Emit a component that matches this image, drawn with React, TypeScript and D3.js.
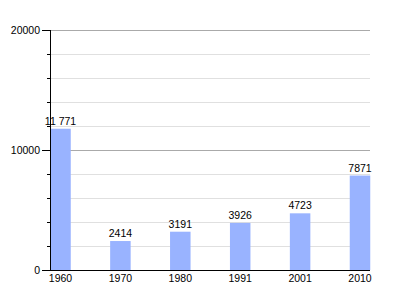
import React from "react";
import * as d3 from "d3";

const years = ["1960", "1970", "1980", "1991", "2001", "2010"];
const population = [11771, 2414, 3191, 3926, 4723, 7871];
const valueLabels = ["11 771", "2414", "3191", "3926", "4723", "7871"];
const majorTicks = [0, 10000, 20000];
const minorTicks = [2000, 4000, 6000, 8000, 12000, 14000, 16000, 18000];

export default function App() {
  const W = 400, H = 300;
  const left = 50, right = 370, top = 30, bottom = 270;
  const x = d3.scalePoint<string>().domain(years).range([60.5, 360]).padding(0);
  const y = d3.scaleLinear().domain([0, 20000]).range([bottom, top]);
  const bw = 20.5;
  const font = "'Liberation Sans', Arial, sans-serif";
  const fs = 10.5;
  return (
    <svg width={W} height={H} style={{ position: "absolute", left: 0, top: 0, background: "#fff" }} fontFamily={font}>
      {minorTicks.map((t) => (
        <g key={"m" + t}>
          <line x1={left} x2={right} y1={Math.round(y(t)) + 0.5} y2={Math.round(y(t)) + 0.5} stroke="#e0e0e0" />
          <line x1={left - 3} x2={left} y1={Math.round(y(t)) + 0.5} y2={Math.round(y(t)) + 0.5} stroke="#000" />
        </g>
      ))}
      {majorTicks.filter((t) => t > 0).map((t) => (
        <line key={"g" + t} x1={left} x2={right} y1={Math.round(y(t)) + 0.5} y2={Math.round(y(t)) + 0.5} stroke="#aaaaaa" />
      ))}
      {years.map((yr, i) => (
        <g key={yr}>
          <rect x={(x(yr) as number) - bw / 2} y={y(population[i])} width={bw} height={bottom - y(population[i])} fill="#99b3ff" />
          <text x={x(yr)} y={y(population[i]) - 4} textAnchor="middle" fontSize={fs} fill="#000">{valueLabels[i]}</text>
          <text x={x(yr)} y={bottom + 12} textAnchor="middle" fontSize={fs} fill="#000">{yr}</text>
        </g>
      ))}
      {majorTicks.map((t) => (
        <g key={"t" + t}>
          <line x1={left - 8} x2={left} y1={Math.round(y(t)) + 0.5} y2={Math.round(y(t)) + 0.5} stroke="#000" />
          <text x={left - 10} y={y(t)} dy="0.35em" textAnchor="end" fontSize={fs} fill="#000">{t}</text>
        </g>
      ))}
      <line x1={left + 0.5} x2={left + 0.5} y1={top} y2={bottom + 1} stroke="#000" />
      <line x1={left} x2={right} y1={bottom + 0.5} y2={bottom + 0.5} stroke="#000" />
    </svg>
  );
}
